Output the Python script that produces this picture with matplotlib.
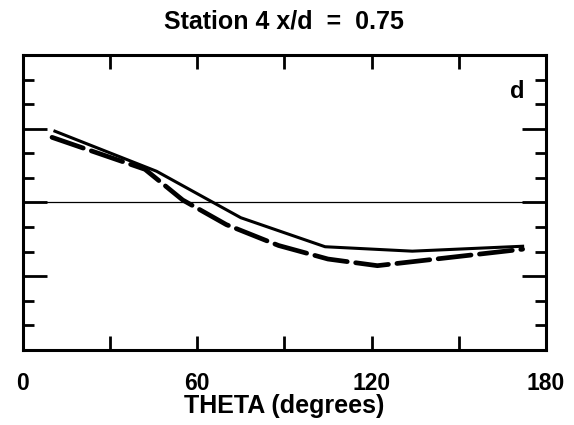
import matplotlib.pyplot as plt
from matplotlib.ticker import MultipleLocator

# theta in degrees (arbitrary units, zero line at 0)
SOLID_THETA = [11, 46, 75, 104, 134, 172]
SOLID_VALUE = [2.9, 1.27, -0.62, -1.8, -1.98, -1.78]

DASHED_THETA = [10, 42, 55, 70, 88, 105, 122, 172]
DASHED_VALUE = [2.65, 1.35, 0.1, -0.9, -1.75, -2.3, -2.57, -1.9]

X_TICKS = [0, 60, 120, 180]
X_MINOR = [30, 90, 150]
TITLE = "Station 4 x/d  =  0.75"
XLABEL = "THETA (degrees)"
PANEL = "d"

plt.rcParams['font.family'] = ['Liberation Sans', 'DejaVu Sans']
plt.rcParams['font.weight'] = 'bold'

fig = plt.figure(figsize=(5.74, 4.25), dpi=100)
ax = fig.add_axes([0.040, 0.1765, 0.911, 0.6941])

ax.plot(SOLID_THETA, SOLID_VALUE, color='black', lw=2.2, solid_joinstyle='round')
ax.plot(DASHED_THETA, DASHED_VALUE, color='black', lw=3.4,
        dashes=(7, 1.8), dash_capstyle='round')
ax.axhline(0, color='black', lw=0.9)

ax.set_xlim(0, 180)
ax.set_ylim(-6, 6)

ax.set_xticks(X_TICKS)
ax.set_xticks(X_MINOR, minor=True)
ax.set_xticklabels([str(t) for t in X_TICKS], fontsize=16.5, fontweight='bold')
ax.yaxis.set_major_locator(MultipleLocator(3))
ax.yaxis.set_minor_locator(MultipleLocator(1))
ax.set_yticklabels([])

ax.tick_params(axis='x', which='both', direction='in', top=True, bottom=True,
               length=10, width=2, pad=16)
ax.tick_params(axis='y', which='major', direction='in', left=True, right=True,
               length=17, width=2)
ax.tick_params(axis='y', which='minor', direction='in', left=True, right=True,
               length=8, width=2)

for spine in ax.spines.values():
    spine.set_linewidth(2.2)

ax.set_xlabel(XLABEL, fontsize=18, fontweight='bold', labelpad=-1)
ax.set_title(TITLE, fontsize=18, fontweight='bold', pad=19)
ax.text(0.946, 0.875, PANEL, transform=ax.transAxes, fontsize=17,
        fontweight='bold', ha='center', va='center')

fig.savefig("out.png", dpi=100)
